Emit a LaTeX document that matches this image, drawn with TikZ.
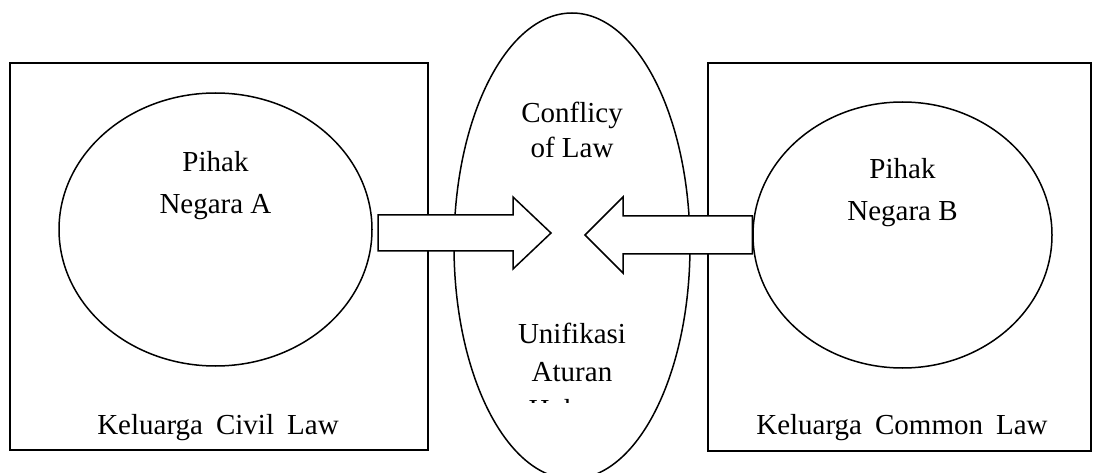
\documentclass[tikz,border=0pt]{standalone}
\usepackage{fontspec}
\setmainfont{Liberation Serif}
\usetikzlibrary{shapes.geometric,positioning,calc}
\tikzset{
  boxline/.style={draw=black,line width=1.5pt},
  oval/.style={ellipse,draw=black,line width=1.5pt,inner sep=0pt},
  lbl/.style={font=\fontsize{29}{42}\selectfont,align=center,inner sep=0pt},
  midlbl/.style={font=\fontsize{29}{#1}\selectfont,align=center,inner sep=0pt},
  blockarr/.style={draw=black,fill=white,line width=1.5pt,line join=miter},
}
\newcommand{\wsp}{\hspace{0.45em}}
\begin{document}
\begin{tikzpicture}[x=1pt,y=-1pt]
  \useasboundingbox (0,0) rectangle (1093,473);
  % two law families
  \draw[boxline] (10,63) rectangle (428,450);
  \draw[boxline] (708,63) rectangle (1091,451);
  % parties and the middle ground
  \node[oval,minimum width=313pt,minimum height=273pt] (ellA) at (215.5,229.5) {};
  \node[oval,minimum width=299pt,minimum height=266pt] (ellB) at (902.5,235) {};
  \node[oval,minimum width=236pt,minimum height=466pt] (ellC) at (572,246) {};
  \node[lbl] (partyA) at ($(ellA.center)+(0,-44)$) {Pihak\\Negara A};
  \node[lbl] (partyB) at ($(ellB.center)+(0,-42)$) {Pihak\\Negara B};
  \node[midlbl=34.5] (conflict) at (572,130) {Conflicy\\of Law};
  \begin{scope}
    \clip (440,300) rectangle (700,402);
    \node[midlbl=38] (unify) at (572,371) {Unifikasi\\Aturan\\Hukum};
  \end{scope}
  \node[lbl] (famA) at (218,428) {Keluarga\wsp Civil\wsp Law};
  \node[lbl] (famB) at (902,428) {Keluarga\wsp Common\wsp Law};
  % block arrows
  \draw[blockarr] (378,215) -- (513,215) -- (513,197) -- (551,233)
    -- (513,269) -- (513,251) -- (378,251) -- cycle;
  \draw[blockarr] (ellB.west |- 0,216) -- (623,216) -- (623,197) -- (585,235)
    -- (623,273) -- (623,254) -- (ellB.west |- 0,254) -- cycle;
\end{tikzpicture}
\end{document}
